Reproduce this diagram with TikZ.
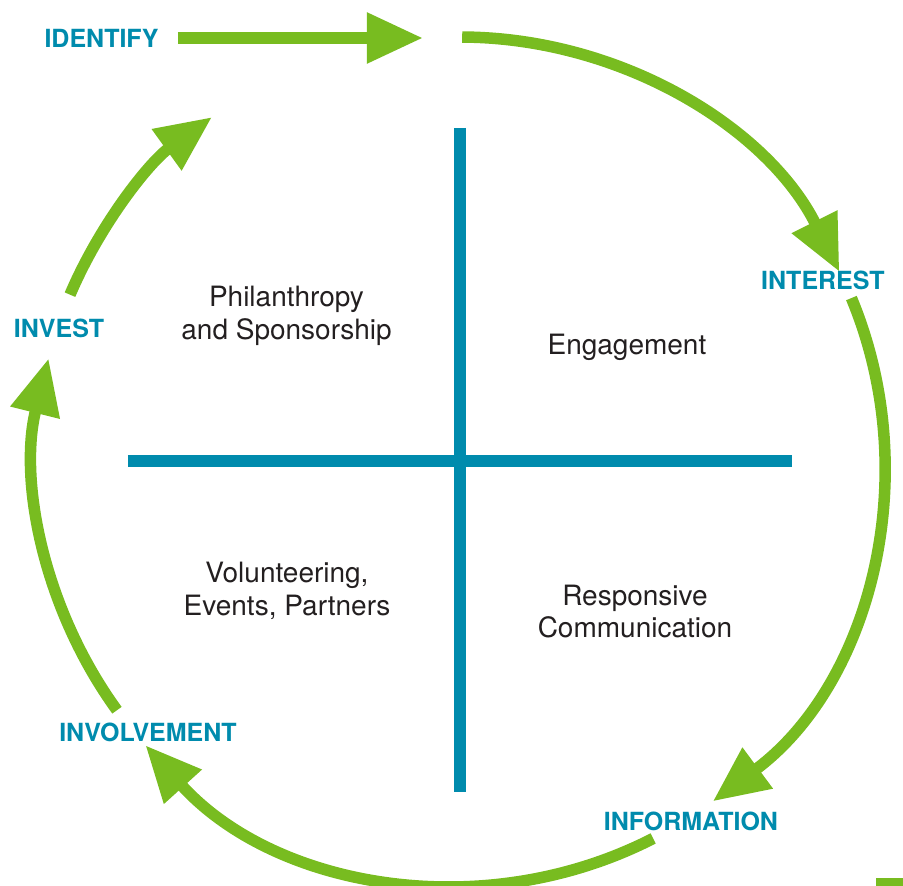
\documentclass[tikz,border=0pt]{standalone}
\usepackage{fontspec}
\setmainfont{TeX Gyre Heros}
\usetikzlibrary{arrows.meta}
\definecolor{cycgreen}{HTML}{78BC20}
\definecolor{cycblue}{HTML}{008BAD}
\definecolor{txtdark}{HTML}{231F20}
\tikzset{
  cycarrow/.style={draw=cycgreen, line width=11.5pt, -{Triangle[length=56pt,width=48pt]}},
  crossline/.style={draw=cycblue, line width=12pt},
  stagelabel/.style={text=cycblue, font=\fontsize{25}{29}\selectfont\bfseries, inner sep=0pt},
  quadtext/.style={text=txtdark, font=\fontsize{28}{32.5}\selectfont, align=center, inner sep=0pt}
}
\begin{document}
\begin{tikzpicture}[x=1pt,y=1pt]
\useasboundingbox (-460,-425) rectangle (443,461);
% cross
\coordinate (vt) at (0,333);
\coordinate (vb) at (0,-331);
\coordinate (hl) at (-332,0);
\coordinate (hr) at (332,0);
\draw[crossline] (vt) -- (vb);
\draw[crossline] (hl) -- (hr);
% stage labels
\node[stagelabel] (identify) at (-358.5,422.5) {IDENTIFY};
\node[stagelabel] (interest) at (363,181) {INTEREST};
\node[stagelabel] (information) at (231,-360.5) {INFORMATION};
\node[stagelabel] (involvement) at (-312,-271) {INVOLVEMENT};
\node[stagelabel] (invest) at (-401,132.3) {INVEST};
% quadrant texts
\node[quadtext] (phil) at (-173.5,145) {Philanthropy\\and Sponsorship};
\node[quadtext] (eng) at (167,114) {Engagement};
\node[quadtext] (vol) at (-173,-130) {Volunteering,\\Events, Partners};
\node[quadtext] (resp) at (175,-150.5) {Responsive\\Communication};
% straight arrow
\coordinate (ids) at (-282,423);
\coordinate (ide) at (-37,423);
\draw[cycarrow] (ids) -- (ide);
% arcs
\coordinate (s1) at (89.7:424);
\coordinate (s2) at (22.6:424);
\coordinate (s3) at (-62.9:424);
\coordinate (s4) at (-144:424);
\coordinate (s5) at (156.9:424);
\draw[cycarrow] (s1) arc[start angle=89.7, end angle=26.5, radius=424];
\draw[cycarrow] (s2) arc[start angle=22.6, end angle=-53.4, radius=424];
\draw[cycarrow] (s3) arc[start angle=-62.9, end angle=-137.9, radius=424];
\draw[cycarrow] (s4) arc[start angle=-144, end angle=-194, radius=424];
\draw[cycarrow] (s5) arc[start angle=156.9, end angle=125.8, radius=424];
% corner fragment
\fill[cycgreen] (416,-417) rectangle (443,-425);
\end{tikzpicture}
\end{document}
